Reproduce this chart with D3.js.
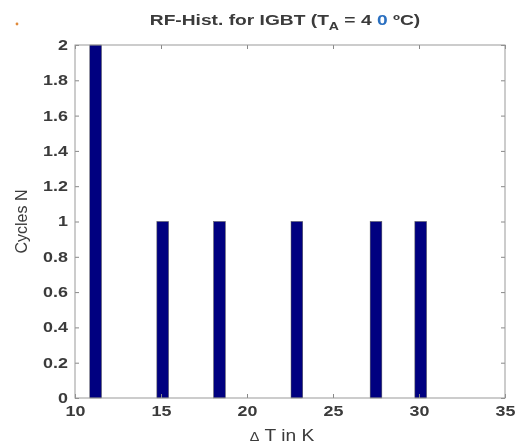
<!DOCTYPE html>
<html>
<head>
<meta charset="utf-8">
<script src="https://cdn.jsdelivr.net/npm/d3@7"></script>
<style>
  html, body { margin: 0; padding: 0; background: #fff; }
  svg { display: block; font-family: "Liberation Sans", Arial, sans-serif; }
</style>
</head>
<body>
<svg id="chart" width="517" height="445"></svg>
<script>
// Rainflow histogram: bin centres (ΔT in K) and cycle counts
const binCenters = [11.2, 15.1, 18.4, 22.9, 27.5, 30.1];
const cycleCounts = [2, 1, 1, 1, 1, 1];
const binWidth = 0.68;
const xTicks = [10, 15, 20, 25, 30, 35];
const yTicks = [0, 0.2, 0.4, 0.6, 0.8, 1, 1.2, 1.4, 1.6, 1.8, 2];

const svg = d3.select("#chart");
const m = { left: 75, right: 505, top: 45, bottom: 398 };
const textColor = "#3a3a3a";
const stretch = 1.28; // wide lettering

const x = d3.scaleLinear().domain([10, 35]).range([m.left, m.right]);
const y = d3.scaleLinear().domain([0, 2]).range([m.bottom, m.top]);

svg.append("defs").append("filter").attr("id", "soft")
  .append("feGaussianBlur").attr("stdDeviation", 0.5);
const root = svg.append("g").attr("filter", "url(#soft)");

// stretch a text element horizontally about its anchor point
function widen(sel, k = stretch) {
  sel.each(function () {
    const t = d3.select(this);
    const ax = +(t.attr("x") || 0);
    const prev = t.attr("transform") || "";
    t.attr("transform", `${prev} translate(${ax},0) scale(${k},1) translate(${-ax},0)`);
  });
}

// bars
root.append("g").selectAll("rect")
  .data(binCenters.map((c, i) => ({ c, n: cycleCounts[i] })))
  .join("rect")
  .attr("x", d => x(d.c - binWidth / 2))
  .attr("width", d => x(d.c + binWidth / 2) - x(d.c - binWidth / 2))
  .attr("y", d => y(d.n))
  .attr("height", d => y(0) - y(d.n))
  .attr("fill", "#000080")
  .attr("stroke", "#555")
  .attr("stroke-width", 0.5);

// axes (box with inward ticks on all four sides)
const tick = 4;
const axisStyle = g => {
  g.select(".domain").remove();
  g.selectAll(".tick line").attr("stroke", "#888");
  g.selectAll(".tick text")
    .attr("fill", textColor).attr("font-size", 14).attr("font-weight", "bold")
    .call(widen);
};
root.append("g").attr("transform", `translate(0,${m.bottom})`)
  .call(d3.axisBottom(x).tickValues(xTicks).tickFormat(d3.format("d"))
    .tickSizeInner(-tick).tickSizeOuter(0).tickPadding(8))
  .call(axisStyle);
root.append("g").attr("transform", `translate(0,${m.top})`)
  .call(d3.axisTop(x).tickValues(xTicks).tickFormat("")
    .tickSizeInner(-tick).tickSizeOuter(0))
  .call(axisStyle);
root.append("g").attr("transform", `translate(${m.left},0)`)
  .call(d3.axisLeft(y).tickValues(yTicks).tickFormat(d3.format("~g"))
    .tickSizeInner(-tick).tickSizeOuter(0).tickPadding(7))
  .call(axisStyle);
root.append("g").attr("transform", `translate(${m.right},0)`)
  .call(d3.axisRight(y).tickValues(yTicks).tickFormat("")
    .tickSizeInner(-tick).tickSizeOuter(0))
  .call(axisStyle);

root.append("rect")
  .attr("x", m.left).attr("y", m.top)
  .attr("width", m.right - m.left).attr("height", m.bottom - m.top)
  .attr("fill", "none").attr("stroke", "#999").attr("stroke-width", 1);

// title
const title = root.append("text")
  .attr("x", 285).attr("y", 25)
  .attr("text-anchor", "middle")
  .attr("font-size", 15).attr("font-weight", "bold").attr("fill", textColor);
title.append("tspan").text("RF-Hist. for IGBT (T");
title.append("tspan").attr("font-size", 11).attr("dy", 5).text("A");
title.append("tspan").attr("dy", -5).text(" = 4 ");
title.append("tspan").attr("fill", "#2a6fc0").text("0");
title.append("tspan").text(" ºC)");
title.call(widen);

// small marker at top-left
root.append("circle").attr("cx", 17).attr("cy", 24).attr("r", 1.4).attr("fill", "#e08a3a");

// axis labels
const xLabel = root.append("text")
  .attr("x", 282).attr("y", 441)
  .attr("text-anchor", "middle")
  .attr("font-size", 16).attr("fill", textColor);
xLabel.append("tspan").attr("font-size", 12).text("Δ");
xLabel.append("tspan").text(" T in K");
xLabel.call(widen, 1.2);

root.append("text")
  .attr("transform", `translate(27,${(m.top + m.bottom) / 2}) rotate(-90)`)
  .attr("text-anchor", "middle")
  .attr("font-size", 16).attr("fill", textColor)
  .text("Cycles N");
</script>
</body>
</html>
